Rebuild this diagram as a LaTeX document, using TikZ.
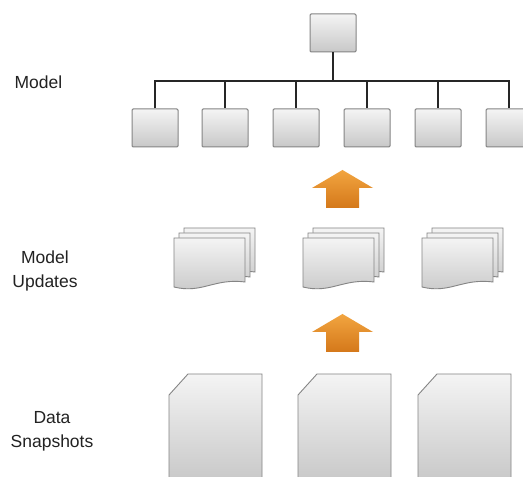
\documentclass[tikz,border=0pt]{standalone}
\usepackage{fontspec}
\setmainfont{Liberation Sans}
\definecolor{boxtop}{HTML}{F4F4F4}
\definecolor{boxbot}{HTML}{C8C8C8}
\definecolor{boxline}{HTML}{858585}
\definecolor{arrtop}{HTML}{F2A540}
\definecolor{arrbot}{HTML}{D4781A}
\definecolor{txt}{HTML}{222222}
\tikzset{
 unitbox/.style={draw=boxline, line width=1pt, rounded corners=1.2pt, top color=boxtop, bottom color=boxbot, minimum width=46pt, minimum height=38pt, inner sep=0pt},
 treeline/.style={line width=1.7pt, draw=black!85},
 page/.style={draw=boxline, line width=0.9pt, top color=boxtop, bottom color=boxbot},
 upblock/.style={top color=arrtop, bottom color=arrbot, draw=none},
 lbl/.style={font=\fontsize{17.5}{24}\selectfont, text=txt, align=center, inner sep=0pt},
}
\newcommand\docpage[2]{%
 \path[page] (#1,#2) -- (#1,#2+49) -- (#1+71,#2+49) -- (#1+71,#2+5)
   .. controls (#1+40,#2+9) and (#1+28,#2-7) .. (#1,#2) -- cycle;}
\newcommand\docstack[2]{\docpage{#1+10}{#2+10}\docpage{#1+5}{#2+5}\docpage{#1}{#2}}
\newcommand\uparrowblock[2]{% x center, y bottom
 \path[upblock] (#1-16.5,#2) -- (#1-16.5,#2+20) -- (#1-30.5,#2+20) -- (#1,#2+38)
   -- (#1+30.5,#2+20) -- (#1+16.5,#2+20) -- (#1+16.5,#2) -- cycle;}
\begin{document}
\begin{tikzpicture}[x=1pt,y=1pt]
\clip (0,0) rectangle (523,477);
\fill[white] (0,0) rectangle (523,477);
% labels
\node[lbl, anchor=base] (lm) at (38.5,388) {Model};
\node[lbl, anchor=base] (lu) at (45,189) {Model\\Updates};
\node[lbl, anchor=base] (ld) at (52,29) {Data\\Snapshots};
% tree
\node[unitbox] (top) at (333,444) {};
\foreach \i/\x in {1/155,2/225,3/296,4/367,5/438,6/509}
  \node[unitbox] (c\i) at (\x,349) {};
\coordinate (bus) at (0,396);
\draw[treeline] (top.south) -- (top.south |- bus);
\draw[treeline] (c1.north) -- (c1.north |- bus) -- (c6.north |- bus) -- (c6.north);
\foreach \i in {2,...,5} \draw[treeline] (c\i.north |- bus) -- (c\i.north);
% arrows
\uparrowblock{342.5}{269}
\uparrowblock{342.5}{125}
% model updates
\docstack{174}{190}
\docstack{303}{190}
\docstack{422}{190}
% data snapshots
\foreach \x in {169,298,418}
  \path[page] (\x,82) -- (\x+19,103) -- (\x+93,103) -- (\x+93,-5) -- (\x,-5) -- cycle;
\end{tikzpicture}
\end{document}
